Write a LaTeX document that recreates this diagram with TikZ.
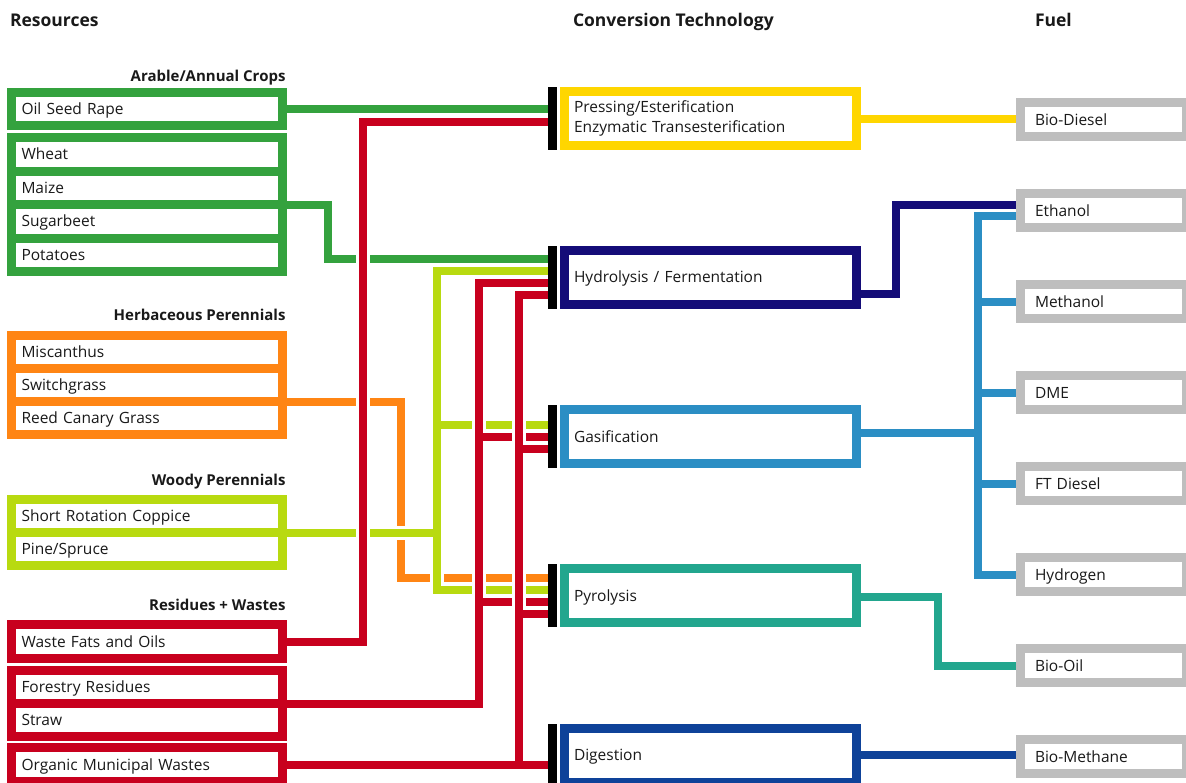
\documentclass[tikz,border=0pt]{standalone}
\usepackage{fontspec}
\setmainfont{Open Sans}
\usetikzlibrary{backgrounds,calc}
\definecolor{cgreen}{RGB}{52,162,62}
\definecolor{corange}{RGB}{255,133,20}
\definecolor{clime}{RGB}{184,218,16}
\definecolor{cred}{RGB}{200,0,30}
\definecolor{cyellow}{RGB}{255,214,0}
\definecolor{cnavy}{RGB}{20,12,120}
\definecolor{cblue}{RGB}{43,142,196}
\definecolor{cteal}{RGB}{34,166,142}
\definecolor{cdig}{RGB}{14,66,153}
\definecolor{cgray}{RGB}{190,190,190}
\definecolor{ctext}{RGB}{25,25,25}
\begin{document}
\begin{tikzpicture}[x=1pt,y=-1pt,
  every node/.style={inner sep=0pt, outer sep=0pt, text=ctext},
  boxbase/.style={draw=#1, line width=9pt, fill=white, font=\fontsize{15.5}{20}\selectfont, text height=14pt, text depth=3pt, align=left},
  res/.style={boxbase=#1, minimum width=271pt, text width=251pt, inner xsep=10pt},
  conv/.style={boxbase=#1, minimum width=292pt, minimum height=54pt, text width=273pt, inner xsep=9.5pt},
  fuel/.style={boxbase=cgray, minimum width=166pt, minimum height=34pt, text width=137pt, inner xsep=14.5pt},
  bar/.style={fill=black, minimum width=9pt, minimum height=63pt},
  title/.style={font=\fontsize{17.5}{20}\selectfont\bfseries, anchor=west, text height=12.5pt, text depth=0pt},
  head/.style={font=\fontsize{15}{18}\selectfont\bfseries, anchor=east, text height=10.7pt, text depth=0pt},
  conn/.style={draw=#1, line width=8pt, preaction={draw=white, line width=14pt}},
]
\useasboundingbox (0,0) rectangle (1186,782);
\clip (0,0) rectangle (1186,782);

% titles
\node[title] (tres) at (10,20) {Resources};
\node[title] (tconv) at (573,20) {Conversion Technology};
\node[title] (tfuel) at (1035,20) {Fuel};
% group headings
\node[head] (harable) at (285.5,76) {Arable/Annual Crops};
\node[head] (hherb) at (285.5,315) {Herbaceous Perennials};
\node[head] (hwood) at (285.5,480) {Woody Perennials};
\node[head] (hres) at (285.5,605) {Residues + Wastes};

% resources
\node[res=cgreen, minimum height=33pt] (osr) at (147,109) {Oil Seed Rape};
\node[res=cgreen, minimum height=33.5pt] (wheat) at (147,154.25) {Wheat};
\node[res=cgreen, minimum height=33.5pt] (maize) at (147,187.75) {Maize};
\node[res=cgreen, minimum height=33.5pt] (sugar) at (147,221.25) {Sugarbeet};
\node[res=cgreen, minimum height=33.5pt] (potato) at (147,254.75) {Potatoes};
\node[res=corange, minimum height=33pt] (misc) at (147,352) {Miscanthus};
\node[res=corange, minimum height=33pt] (switch) at (147,385) {Switchgrass};
\node[res=corange, minimum height=33pt] (reed) at (147,418) {Reed Canary Grass};
\node[res=clime, minimum height=33pt] (src) at (147,516) {Short Rotation Coppice};
\node[res=clime, minimum height=33pt] (pine) at (147,549) {Pine/Spruce};
\node[res=cred, minimum height=34pt] (wf) at (147,641.5) {Waste Fats and Oils};
\node[res=cred, minimum height=33pt] (forestry) at (147,687) {Forestry Residues};
\node[res=cred, minimum height=33pt] (straw) at (147,720) {Straw};
\node[res=cred, minimum height=34pt] (organic) at (147,764.5) {Organic Municipal Wastes};

% conversion technologies
\node[conv=cyellow, text depth=26pt] (press) at (710.5,118.5) {Pressing/Esterification\\Enzymatic Transesterification};
\node[conv=cnavy] (hydro) at (710.5,277) {Hydrolysis / Fermentation};
\node[conv=cblue] (gas) at (710.5,436.5) {Gasification};
\node[conv=cteal] (pyro) at (710.5,595.5) {Pyrolysis};
\node[conv=cdig] (digest) at (710.5,755) {Digestion};

% input bars
\node[bar] (bar1) at (552,118.5) {};
\node[bar] (bar2) at (552,277) {};
\node[bar] (bar3) at (552,436.5) {};
\node[bar] (bar4) at (552,595.5) {};
\node[bar] (bar5) at (552,755) {};

% fuels
\node[fuel] (biodiesel) at (1103.5,119.5) {Bio-Diesel};
\node[fuel] (ethanol) at (1103.5,210.5) {Ethanol};
\node[fuel] (methanol) at (1103.5,301.5) {Methanol};
\node[fuel] (dme) at (1103.5,392.5) {DME};
\node[fuel] (ftdiesel) at (1103.5,483.5) {FT Diesel};
\node[fuel] (hydrogen) at (1103.5,574.5) {Hydrogen};
\node[fuel] (biooil) at (1103.5,665.5) {Bio-Oil};
\node[fuel] (biomethane) at (1103.5,756.5) {Bio-Methane};

\begin{scope}[on background layer]
\draw[conn=cgreen] (osr.east) -- (osr.east -| bar1.west)
  (maize.south east) -- ++(45.5,0) |- ($(bar2.west)+(0,-18)$);
\draw[conn=corange] (switch.south east) -- ++(118,0) |- ($(bar4.west)+(0,-18)$);
\draw[conn=clime] (src.south east) -- ++(154.5,0)
  ($(bar2.west)+(0,-6)$) -- ++(-110.5,0) |- ($(bar4.west)+(0,-6)$)
  ($(bar3.west)+(0,-12)$) -- ++(-110.5,0);
\draw[conn=cred] (wf.east) -- ++(80.5,0) |- ($(bar1.west)+(0,3.5)$);
\draw[conn=cred] (forestry.south east) -- ++(196,0) |- ($(bar2.west)+(0,6)$)
  (bar3.west) -- ++(-69,0)
  ($(bar4.west)+(0,6)$) -- ++(-69,0);
\draw[conn=cred] (organic.east) -- (organic.east -| bar5.west)
  ($(bar2.west)+(0,18)$) -| ($(organic.east)+(236,0)$)
  ($(bar3.west)+(0,12)$) -- ++(-29,0)
  ($(bar4.west)+(0,18)$) -- ++(-29,0);
\draw[conn=cyellow] (press.east) -- (press.east -| biodiesel.west);
\draw[conn=cnavy] ($(hydro.east)+(0,17)$) -- ++(39.5,0) |- ($(ethanol.west)+(0,-6)$);
\draw[conn=cblue] ($(gas.east)+(0,-3.5)$) -- ++(121.5,0)
  ($(ethanol.west)+(0,5.5)$) -- ++(-42.5,0) |- (hydrogen.west)
  (methanol.west) -- ++(-42.5,0)
  (dme.west) -- ++(-42.5,0)
  (ftdiesel.west) -- ++(-42.5,0);
\draw[conn=cteal] ($(pyro.east)+(0,1.5)$) -- ++(81,0) |- (biooil.west);
\draw[conn=cdig] (digest.east) -- (digest.east -| biomethane.west);
\end{scope}
\end{tikzpicture}
\end{document}
